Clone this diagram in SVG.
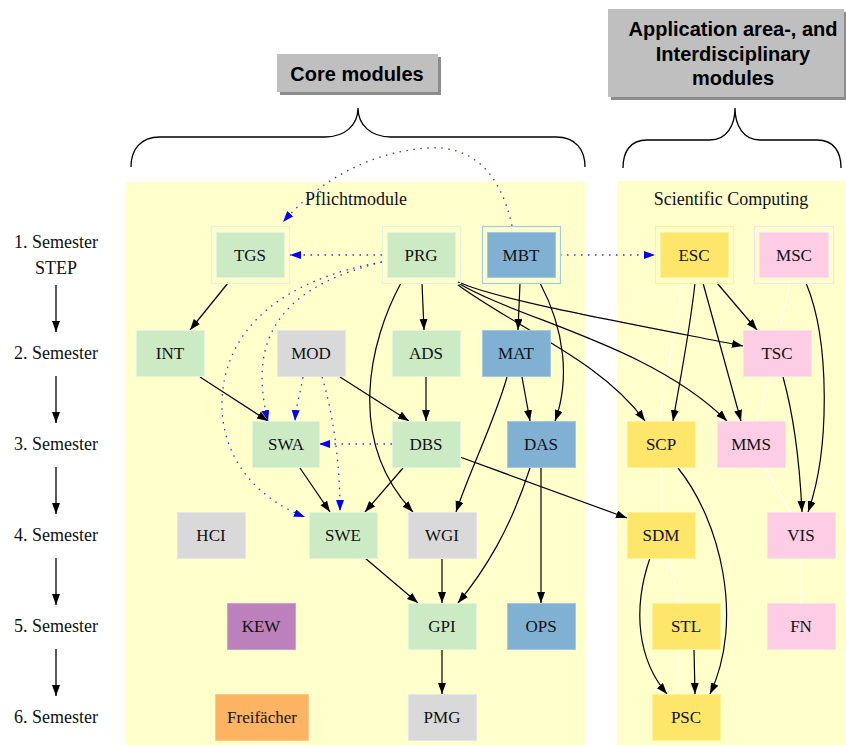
<svg xmlns="http://www.w3.org/2000/svg" width="846" height="745" viewBox="0 0 846 745">
<style>
.lbl{font-family:"Liberation Serif","Times New Roman",serif;font-size:18px;fill:#111;text-anchor:middle}
.nt{font-family:"Liberation Serif","Times New Roman",serif;font-size:17px;fill:#111;text-anchor:middle}
.hd{font-family:"Liberation Sans",Arial,sans-serif;font-size:20px;font-weight:bold;fill:#000;text-anchor:middle}
.e{fill:none;stroke:#000;stroke-width:1.2;marker-end:url(#ab)}
.d{fill:none;stroke:#3030ff;stroke-width:1.3;stroke-dasharray:1.5 5.5;marker-end:url(#au)}
.w{fill:none;stroke:#ffffff;stroke-width:1}
.g{fill:#ccebc5;stroke:#e2f4de}
.gr{fill:#d9d9d9;stroke:#e6e6e6}
.b{fill:#80b1d3;stroke:#a6c9e3}
.y{fill:#fee66a;stroke:#fff09a}
.p{fill:#fccde5;stroke:#fde0ef}
.o{fill:none;stroke-width:1.2}
</style>
<defs>
<marker id="ab" markerUnits="userSpaceOnUse" markerWidth="12" markerHeight="9" refX="11" refY="4" orient="auto"><path d="M0,0 L11,4 L0,8 z" fill="#000"/></marker>
<marker id="au" markerUnits="userSpaceOnUse" markerWidth="12" markerHeight="9" refX="11" refY="4" orient="auto"><path d="M0,0 L11,4 L0,8 z" fill="#0000ff"/></marker>
<marker id="sa" markerUnits="userSpaceOnUse" markerWidth="12" markerHeight="12" refX="5" refY="12" orient="auto"><path d="M0,0 L5,12 L10,0 z" fill="#000"/></marker>
</defs>
<rect width="846" height="745" fill="#ffffff"/>

<g id="headers">
<rect x="280" y="57" width="161" height="38" fill="#8c8c8c"/>
<rect x="277" y="54" width="161" height="38" fill="#bfbfbf"/>
<text class="hd" x="357" y="81">Core modules</text>
<rect x="611" y="12" width="235" height="88" fill="#8c8c8c"/>
<rect x="608" y="9" width="236" height="88" fill="#bfbfbf"/>
<text class="hd" x="733" y="36">Application area-, and</text>
<text class="hd" x="733" y="61">Interdisciplinary</text>
<text class="hd" x="733" y="85">modules</text>
<path d="M131,167 C131,150 140,137 160,137 L325,137 C345,137 358,125 358,108 C358,125 371,137 391,137 L556,137 C576,137 585,150 585,167" fill="none" stroke="#000" stroke-width="1.3"/>
<path d="M623,168 C623,152 630,140 647,140 L710,140 C727,140 735,125 735,108 C735,125 743,140 760,140 L817,140 C834,140 841,152 841,168" fill="none" stroke="#000" stroke-width="1.3"/>
</g>

<g id="clusters">
<rect x="126" y="182" width="459" height="563" fill="#ffffcc"/>
<text class="lbl" x="356" y="205">Pflichtmodule</text>
<rect x="617" y="181" width="229" height="564" fill="#ffffcc"/>
<text class="lbl" x="731" y="205">Scientific Computing</text>
</g>

<g id="semesters">
<text class="lbl" x="56" y="248">1. Semester</text>
<text class="lbl" x="56" y="274">STEP</text>
<text class="lbl" x="56" y="359">2. Semester</text>
<text class="lbl" x="56" y="450">3. Semester</text>
<text class="lbl" x="56" y="541">4. Semester</text>
<text class="lbl" x="56" y="632">5. Semester</text>
<text class="lbl" x="56" y="723">6. Semester</text>
<g stroke="#000" stroke-width="1.3" marker-end="url(#ab)">
<line x1="56" y1="285" x2="56" y2="332"/>
<line x1="56" y1="376" x2="56" y2="423"/>
<line x1="56" y1="467" x2="56" y2="514"/>
<line x1="56" y1="558" x2="56" y2="605"/>
<line x1="56" y1="649" x2="56" y2="696"/>
</g>
</g>

<g id="connectors">
<g>
<path class="w" d="M683,283 L659,421"/>
<path class="w" d="M790,283 L779,330"/>
<path class="w" d="M770,377 L757,421"/>
<path class="w" d="M661,468 L661,512"/>
<path class="w" d="M668,558 L680,603"/>
<path class="w" d="M679,649 L679,694"/>
<path class="w" d="M801,558 L801,603"/>
<path class="w" d="M765,468 L790,512"/>
<path class="w" d="M460,335 C560,318 660,300 747,283" stroke-dasharray="2 4"/>
</g>
<path class="e" d="M228,283 L190,330"/>
<path class="e" d="M200,377 L268,421"/>
<path class="e" d="M340,377 L409,421"/>
<path class="e" d="M422,283 L424,330"/>
<path class="e" d="M401,283 C370,340 345,440 413,512"/>
<path class="e" d="M507,377 C495,420 470,470 456,512"/>
<path class="e" d="M520,283 L518,330"/>
<path class="e" d="M540,283 C565,330 570,380 555,421"/>
<path class="e" d="M522,377 L530,421"/>
<path class="e" d="M426,377 L426,421"/>
<path class="e" d="M403,468 L365,512"/>
<path class="e" d="M460,457 L627,518"/>
<path class="e" d="M300,468 L330,512"/>
<path class="e" d="M530,468 C510,530 485,570 458,603"/>
<path class="e" d="M541,468 L541,603"/>
<path class="e" d="M442,558 L442,603"/>
<path class="e" d="M365,558 L418,603"/>
<path class="e" d="M442,649 L442,694"/>
<path class="e" d="M458,282 C500,300 600,318 743,346"/>
<path class="e" d="M458,283 C520,320 650,345 727,421"/>
<path class="e" d="M458,285 C520,330 600,360 645,421"/>
<path class="e" d="M695,283 C690,330 680,380 673,421"/>
<path class="e" d="M703,283 L741,421"/>
<path class="e" d="M717,283 L757,330"/>
<path class="e" d="M806,283 C830,340 830,450 808,512"/>
<path class="e" d="M783,377 C795,420 800,470 802,512"/>
<path class="e" d="M678,468 C720,520 745,620 710,694"/>
<path class="e" d="M650,558 C632,610 638,660 667,694"/>
<path class="e" d="M694,649 L695,694"/>
<path class="d" d="M512,226 C500,170 470,145 427,148 C370,152 320,180 283,222"/>
<path class="d" d="M382,255 L290,255"/>
<path class="d" d="M560,255 L655,255"/>
<path class="d" d="M382,262 C290,285 245,330 268,421"/>
<path class="d" d="M382,262 C280,280 225,330 222,400 C220,460 260,500 305,517"/>
<path class="d" d="M303,377 C300,395 296,405 295,421"/>
<path class="d" d="M322,377 C335,420 340,470 340,511"/>
<path class="d" d="M392,444 L319,444"/>
</g>

<g id="TGS"><rect class="g o" x="211.5" y="226.5" width="78" height="57"/><rect class="g" x="216.5" y="232.5" width="68" height="45"/><text class="nt" x="250" y="261">TGS</text></g>
<g id="PRG"><rect class="g o" x="382.5" y="226.5" width="78" height="57"/><rect class="g" x="387.5" y="232.5" width="68" height="45"/><text class="nt" x="421" y="261">PRG</text></g>
<g id="MBT"><rect class="b o" x="482.5" y="226.5" width="78" height="57"/><rect class="b" x="487.5" y="232.5" width="68" height="45"/><text class="nt" x="521" y="261">MBT</text></g>
<g id="ESC"><rect class="y o" x="655.5" y="226.5" width="78" height="57"/><rect class="y" x="660.5" y="232.5" width="68" height="45"/><text class="nt" x="694" y="261">ESC</text></g>
<g id="MSC"><rect class="p o" x="754.5" y="226.5" width="79" height="57"/><rect class="p" x="759.5" y="232.5" width="69" height="45"/><text class="nt" x="794" y="261">MSC</text></g>

<g id="INT"><rect class="g" x="136.5" y="330.5" width="68" height="46"/><text class="nt" x="170" y="359">INT</text></g>
<g id="MOD"><rect class="gr" x="277.5" y="330.5" width="68" height="46"/><text class="nt" x="311" y="359">MOD</text></g>
<g id="ADS"><rect class="g" x="392.5" y="330.5" width="68" height="46"/><text class="nt" x="426" y="359">ADS</text></g>
<g id="MAT"><rect class="b" x="482.5" y="330.5" width="68" height="46"/><text class="nt" x="516" y="359">MAT</text></g>
<g id="TSC"><rect class="p" x="743.5" y="330.5" width="68" height="46"/><text class="nt" x="777" y="359">TSC</text></g>

<g id="SWA"><rect class="g" x="252.5" y="421.5" width="67" height="46"/><text class="nt" x="286" y="450">SWA</text></g>
<g id="DBS"><rect class="g" x="392.5" y="421.5" width="68" height="46"/><text class="nt" x="426" y="450">DBS</text></g>
<g id="DAS"><rect class="b" x="507.5" y="421.5" width="68" height="46"/><text class="nt" x="541" y="450">DAS</text></g>
<g id="SCP"><rect class="y" x="627.5" y="421.5" width="68" height="46"/><text class="nt" x="661" y="450">SCP</text></g>
<g id="MMS"><rect class="p" x="717.5" y="421.5" width="68" height="46"/><text class="nt" x="751" y="450">MMS</text></g>

<g id="HCI"><rect class="gr" x="177.5" y="512.5" width="68" height="46"/><text class="nt" x="211" y="541">HCI</text></g>
<g id="SWE"><rect class="g" x="309.5" y="512.5" width="68" height="46"/><text class="nt" x="343" y="541">SWE</text></g>
<g id="WGI"><rect class="gr" x="408.5" y="512.5" width="68" height="46"/><text class="nt" x="442" y="541">WGI</text></g>
<g id="SDM"><rect class="y" x="627.5" y="512.5" width="68" height="46"/><text class="nt" x="661" y="541">SDM</text></g>
<g id="VIS"><rect class="p" x="767.5" y="512.5" width="68" height="46"/><text class="nt" x="801" y="541">VIS</text></g>

<g id="KEW"><rect x="227.5" y="603.5" width="68" height="46" fill="#bc80bd" stroke="#cfa0d0"/><text class="nt" x="261" y="632">KEW</text></g>
<g id="GPI"><rect class="g" x="408.5" y="603.5" width="68" height="46"/><text class="nt" x="442" y="632">GPI</text></g>
<g id="OPS"><rect class="b" x="507.5" y="603.5" width="68" height="46"/><text class="nt" x="541" y="632">OPS</text></g>
<g id="STL"><rect class="y" x="652.5" y="603.5" width="68" height="46"/><text class="nt" x="686" y="632">STL</text></g>
<g id="FN"><rect class="p" x="767.5" y="603.5" width="68" height="46"/><text class="nt" x="801" y="632">FN</text></g>

<g id="Freifaecher"><rect x="215.5" y="694.5" width="93" height="46" fill="#fdb462" stroke="#fec98d"/><text class="nt" x="262" y="723">Freifächer</text></g>
<g id="PMG"><rect class="gr" x="408.5" y="694.5" width="68" height="46"/><text class="nt" x="442" y="723">PMG</text></g>
<g id="PSC"><rect class="y" x="652.5" y="694.5" width="68" height="46"/><text class="nt" x="686" y="723">PSC</text></g>
</svg>
